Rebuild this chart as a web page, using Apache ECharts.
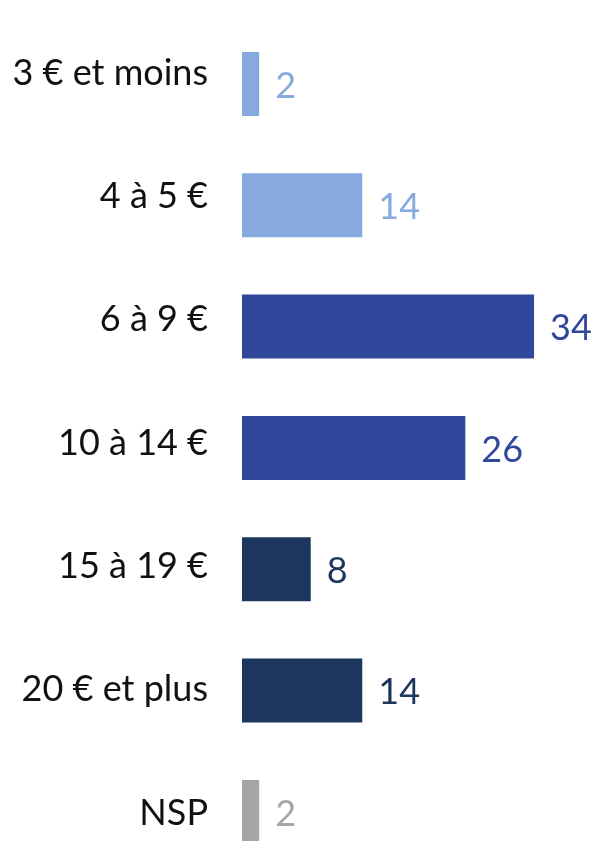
<!DOCTYPE html>
<html>
<head>
<meta charset="utf-8">
<script src="https://cdn.jsdelivr.net/npm/echarts@6/dist/echarts.min.js"></script>
<style>
html,body{margin:0;padding:0;background:#fff;overflow:hidden;}
#chart{width:595px;height:900px;}
</style>
</head>
<body>
<div id="chart"></div>
<script>
// Data
var categories = ['3 € et moins', '4 à 5 €', '6 à 9 €', '10 à 14 €', '15 à 19 €', '20 € et plus', 'NSP'];
var values = [2, 14, 34, 26, 8, 14, 2];

// Style palette (one colour per row)
var palette = ['#86AADE', '#86AADE', '#30479B', '#30479B', '#1C365D', '#1C365D', '#A6A6A6'];

var FONT = 'Lato';
var chart = echarts.init(document.getElementById('chart'));
chart.setOption({
  animation: false,
  backgroundColor: '#ffffff',
  grid: [
    { left: 242, top: 23.3, width: 343.6, height: 849.3 },
    { left: 242, top: 11.3, width: 343.6, height: 863.5 }
  ],
  xAxis: [
    { gridIndex: 0, type: 'value', min: 0, max: 40, show: false },
    { gridIndex: 1, type: 'value', min: 0, max: 40, show: false }
  ],
  yAxis: [
    { gridIndex: 0, type: 'category', data: categories, inverse: true,
      axisLine: { show: false }, axisTick: { show: false }, axisLabel: { show: false }, splitLine: { show: false } },
    { gridIndex: 1, type: 'category', data: categories, inverse: true,
      axisLine: { show: false }, axisTick: { show: false }, splitLine: { show: false },
      axisLabel: { show: true, margin: 34, fontFamily: FONT, fontSize: 36, color: '#111111' } }
  ],
  series: [{
    type: 'bar',
    xAxisIndex: 0,
    yAxisIndex: 0,
    barWidth: 64,
    data: values.map(function (v, i) {
      return {
        value: v,
        itemStyle: { color: palette[i] },
        label: { color: palette[i] }
      };
    }),
    label: {
      show: true,
      position: 'right',
      distance: 16,
      offset: [0, 2],
      fontFamily: FONT,
      fontSize: 36
    }
  }]
});
</script>
</body>
</html>
